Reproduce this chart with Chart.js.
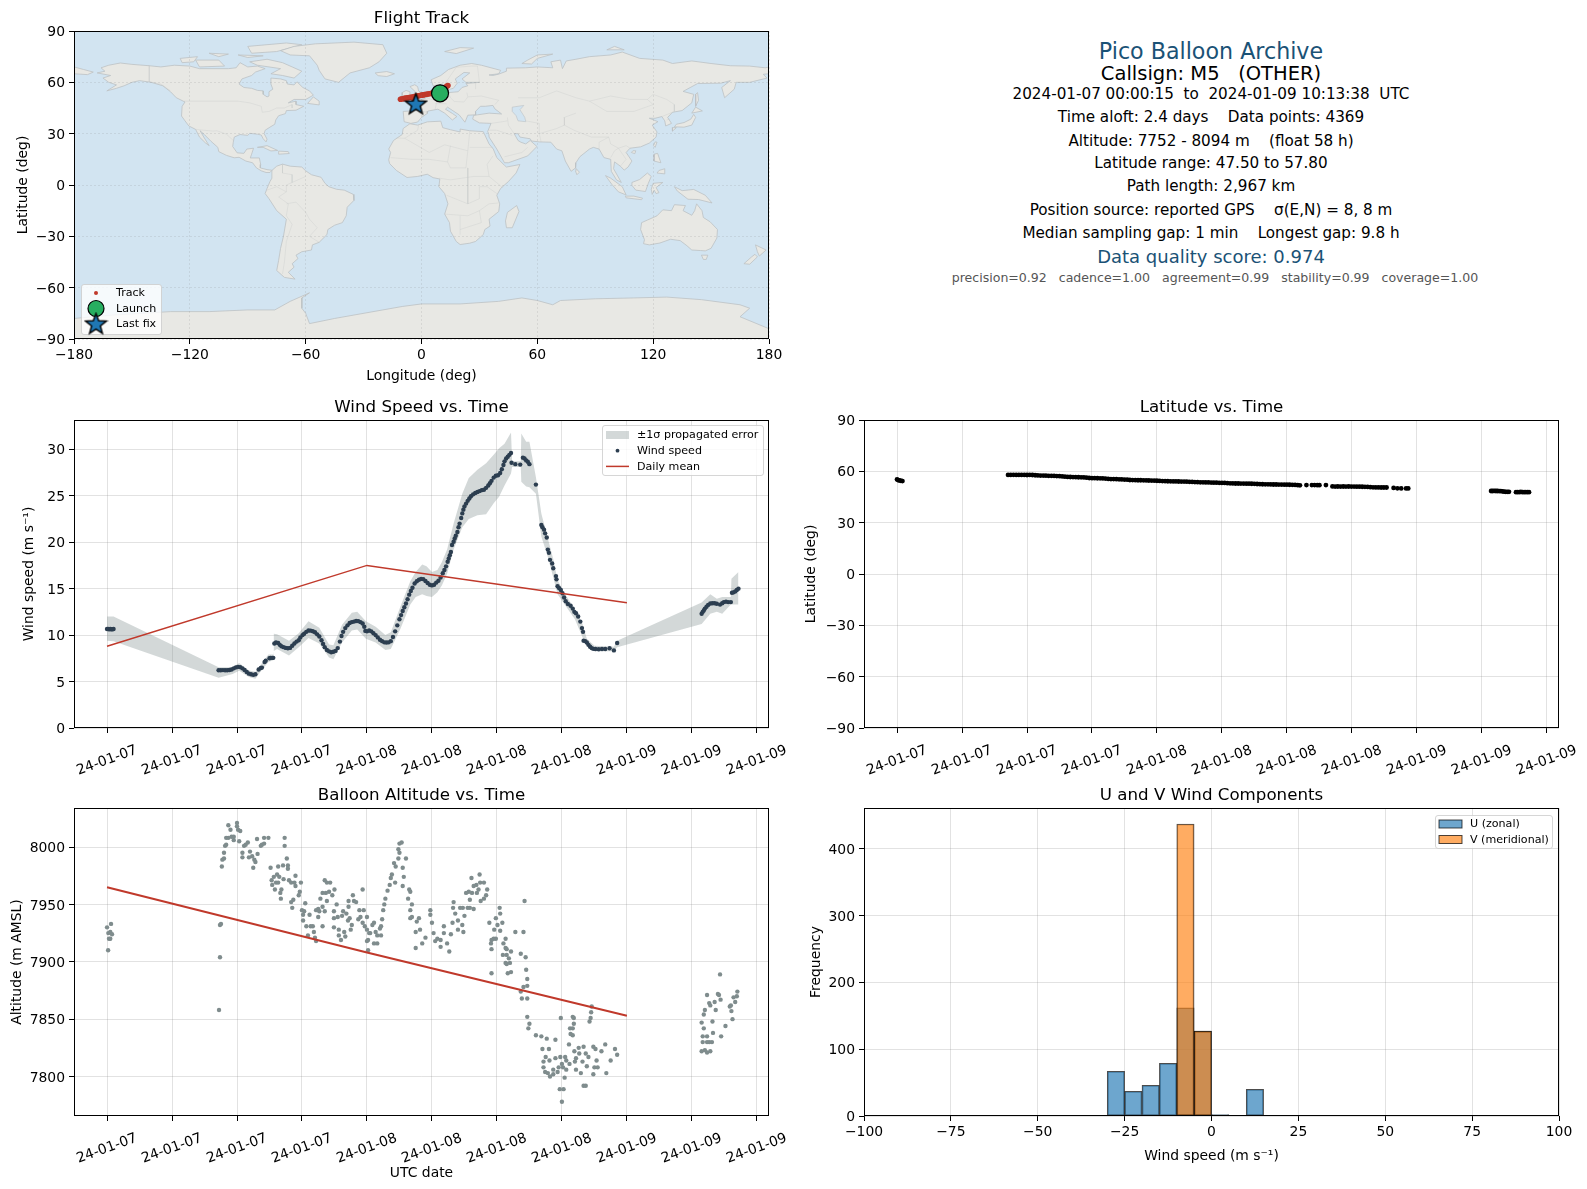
<!DOCTYPE html>
<html>
<head>
<meta charset="utf-8">
<title>Pico Balloon Archive</title>
<script src="https://cdn.jsdelivr.net/npm/chart.js@4"></script>
<style>
html, body { margin: 0; padding: 0; background: #fff; }
body { position: relative; width: 1587px; height: 1189px; overflow: hidden; font-family: "DejaVu Sans", sans-serif; }
canvas { position: absolute; }
.info { position: absolute; left: 811px; width: 800px; text-align: center; white-space: pre; line-height: 1; transform: translateY(-50%); color: #000; font-size: 15.2px; }
.head { color: #1a5276; }
</style>
</head>
<body>
<canvas id="c-map" width="800" height="390" style="left:0;top:0"></canvas>
<canvas id="c-wind" width="800" height="395" style="left:0;top:390px"></canvas>
<canvas id="c-lat" width="787" height="395" style="left:800px;top:390px"></canvas>
<canvas id="c-alt" width="800" height="404" style="left:0;top:785px"></canvas>
<canvas id="c-hist" width="787" height="404" style="left:800px;top:785px"></canvas>

<div class="info head" style="top:50.5px;font-size:22.2px">Pico Balloon Archive</div>
<div class="info" style="top:73.8px;font-size:19.5px">Callsign: M5   (OTHER)</div>
<div class="info" style="top:94.7px">2024-01-07 00:00:15  to  2024-01-09 10:13:38  UTC</div>
<div class="info" style="top:118.2px">Time aloft: 2.4 days    Data points: 4369</div>
<div class="info" style="top:141.5px">Altitude: 7752 - 8094 m    (float 58 h)</div>
<div class="info" style="top:164px">Latitude range: 47.50 to 57.80</div>
<div class="info" style="top:187.3px">Path length: 2,967 km</div>
<div class="info" style="top:210.6px">Position source: reported GPS    σ(E,N) = 8, 8 m</div>
<div class="info" style="top:233.8px">Median sampling gap: 1 min    Longest gap: 9.8 h</div>
<div class="info head" style="top:257.2px;font-size:18px">Data quality score: 0.974</div>
<div class="info" style="top:277.7px;left:815px;font-size:12.55px;color:#555">precision=0.92   cadence=1.00   agreement=0.99   stability=0.99   coverage=1.00</div>

<script>
// time axis (hours since 2024-01-07 00:00)
const timeTicks = [0, 6, 12, 18, 24, 30, 36, 42, 48, 54, 60];
const timeLabels = ['24-01-07', '24-01-07', '24-01-07', '24-01-07', '24-01-08', '24-01-08', '24-01-08', '24-01-08', '24-01-09', '24-01-09', '24-01-09'];

// wind speed vs time [hour, m/s]
const windPoints = [[0,10.65],[.1,10.65],[.2,10.62],[.3,10.65],[.4,10.62],[.5,10.63],[.6,10.66],
[10.3,6.22],[10.5,6.22],[10.7,6.23],[10.9,6.22],[11.1,6.22],[11.3,6.25],[11.5,6.3],[11.7,6.42],[11.9,6.52],[12.1,6.58],[12.3,6.55],[12.5,6.42],[12.7,6.25],[12.9,6.02],[13.1,5.85],[13.3,5.78],[13.5,5.72],[13.7,5.78],
[14,6.3],[14.2,6.45],[14.3,6.5],[14.55,7.1],[14.65,7.25],[15,7.5],[15.1,7.55],[15.25,7.55],[15.35,7.55],
[15.45,9.1],[15.6,9.2],[15.8,9.15],[15.95,8.95],[16.1,8.8],[16.3,8.7],[16.5,8.62],[16.7,8.58],[16.9,8.62],[17.1,8.85],[17.3,9.1],[17.5,9.3],[17.7,9.45],[17.85,9.75],[18.05,10],[18.2,10.15],[18.4,10.35],[18.6,10.5],[18.8,10.48],[19,10.42],[19.2,10.3],[19.4,10.08],[19.6,9.85],[19.8,9.45],[19.95,9.05],[20.1,8.7],[20.3,8.4],[20.5,8.25],[20.7,8.15],[20.9,8.2],[21.1,8.3],[21.3,8.6],[21.5,9.3],[21.65,9.9],[21.8,10.35],[22,10.75],[22.2,11.05],[22.4,11.3],[22.6,11.4],[22.8,11.45],[23,11.52],[23.2,11.5],[23.4,11.4],[23.6,11.25],[23.75,10.9],[23.85,10.45],[24,10.4],[24.2,10.5],[24.4,10.4],[24.6,10.2],[24.8,10],[25,9.75],[25.2,9.5],[25.4,9.35],[25.6,9.22],[25.8,9.2],[26,9.22],[26.2,9.35],[26.4,9.8],[26.6,10.4],[26.8,11.05],[27,11.7],[27.15,12.15],[27.3,12.6],[27.45,13],[27.6,13.4],[27.75,13.85],[27.9,14.35],[28.05,14.75],[28.2,15.1],[28.4,15.55],[28.6,15.8],[28.8,15.95],[29,16.05],[29.2,16.02],[29.4,15.82],[29.6,15.6],[29.8,15.42],[30,15.35],[30.2,15.42],[30.4,15.65],[30.6,15.85],[30.8,16.2],[31,16.65],[31.15,17],[31.3,17.4],[31.45,17.9],[31.55,18.25],[31.65,18.6],[31.75,18.95],[31.85,19.7],[32,20.05],[32.1,20.4],[32.2,20.7],[32.35,21.1],[32.45,21.6],[32.55,22],[32.7,22.6],[32.8,23.1],[32.9,23.5],[33,23.85],[33.15,24.15],[33.3,24.45],[33.45,24.7],[33.6,24.95],[33.8,25.15],[34,25.3],[34.2,25.4],[34.4,25.5],[34.6,25.6],[34.8,25.65],[35,25.85],[35.2,26.1],[35.35,26.35],[35.5,26.6],[35.7,26.95],[35.9,27.15],[36.1,27.2],[36.3,27.45],[36.45,27.85],[36.6,28.3],[36.7,28.7],[36.85,29],[37,29.2],[37.15,29.4],[37.3,29.6],[37.35,28.55],[37.7,28.4],[38.15,28.35],[38.4,29.1],[38.55,29],[38.7,28.8],[38.85,28.65],[39,28.4],[39.6,26.2],[40.1,21.85],[40.2,21.6],[40.35,21.35],[40.45,20.95],[40.6,20.5],[40.7,19.2],[40.8,18.85],[40.9,18.1],[41.1,17.7],[41.2,17.2],[41.45,16.35],[41.5,16],[41.6,15.25],[41.75,15.05],[41.9,14.85],[42.05,14.5],[42.2,14.05],[42.35,13.65],[42.55,13.35],[42.8,13.15],[43,12.85],[43.15,12.5],[43.3,12.35],[43.5,12],[43.7,11.45],[43.85,10.75],[43.95,10.35],[44,9.4],[44.15,9.35],[44.3,9.2],[44.45,8.95],[44.6,8.75],[44.75,8.6],[44.9,8.52],[45.1,8.5],[45.4,8.48],[45.7,8.5],[46,8.5],[46.4,8.58],[46.8,8.35],[47.1,9.15],
[54.9,12.3],[55,12.5],[55.1,12.65],[55.2,12.85],[55.35,13.05],[55.5,13.25],[55.7,13.4],[55.9,13.42],[56.1,13.42],[56.3,13.38],[56.6,13.28],[56.8,13.42],[56.95,13.55],[57.15,13.6],[57.35,13.55],[57.6,13.55],[57.7,14.55],[57.85,14.6],[58,14.7],[58.15,14.85],[58.3,15]];

// propagated error band
const bandHours = [0,.6,10.3,11.6,12.2,13.1,13.7,14.2,14.9,15.35,15.4,15.7,16.8,17.7,18.6,19.6,20.5,20.9,21.7,22.6,23.1,23.9,24.8,25.7,26.2,27.1,28,28.5,29.1,29.5,30,30.5,30.9,31.4,32,32.8,33.4,34.2,35,35.7,36.2,36.7,37.3,37.4,38.2,38.25,38.7,39,39.6,40.1,40.7,41.2,41.6,42.3,43.2,43.9,44.3,45,46.8,47.1,54.9,55.7,56.3,56.8,57.6,57.65,58.3];
const bandLower = [9.4,9.35,5.4,5.8,6.15,5.5,5.3,6.1,7.1,7.3,8.3,8.5,7.8,8.7,9.7,9.1,7.6,7.4,9.2,10.5,10.6,9.6,9.2,8.4,8.5,10.7,13.3,14.1,14.4,14.2,14.1,14.6,15.3,16.6,19.2,21.6,22.5,22.9,23,24.2,24.9,26.1,27.4,28.1,28.1,26.5,26,25.9,25.2,20.6,18.4,16.2,14.4,13.2,11.7,9.76,8.86,8.25,8.25,8.7,11.2,12.3,12.5,12.3,13.3,13.3,13.3];
const bandUpper = [12,12,6.55,6.55,7,6.2,6.05,6.8,7.9,7.9,10.15,10.1,9.4,10.2,11.5,10.8,9,8.9,11.1,12.4,12.5,11.5,10.9,10,10.3,13.1,15.8,16.8,17.6,17.4,16.8,17,17.8,19.2,22,25.2,26.9,27.8,28.5,29.4,30.1,30.6,31.8,28.7,28.7,31.7,30.8,30.8,27,23.1,20.4,18.2,15.9,14.4,12.8,11.2,9.6,8.86,8.75,9.4,13.5,14.4,13.9,14.1,14.1,16.06,16.8];

const windMeanHours = [0, 24, 48];
const windMean = [8.79, 17.5, 13.47];
const windTicks = [0, 5, 10, 15, 20, 25, 30];

// latitude vs time [hour, deg]
const latPoints = [[0,55.3],[.1,54.9],[.2,54.7],[.35,54.5],[.5,54.3],
[10.25,57.9],[10.5,57.9],[10.75,57.95],[11,57.9],[11.25,57.9],[11.5,57.9],[11.75,57.9],[12,57.85],[12.25,57.9],[12.5,57.85],[12.75,57.7],[13,57.6],[13.25,57.55],[13.5,57.5],[13.75,57.45],[14,57.4],[14.25,57.4],[14.5,57.3],[14.75,57.25],[15,57.2],[15.25,57],[15.5,56.9],[15.75,56.75],[16,56.7],[16.25,56.65],[16.5,56.6],[16.75,56.55],[17,56.5],[17.25,56.45],[17.5,56.3],[17.75,56.1],[18,56],[18.25,56],[18.5,55.95],[18.75,55.9],[19,55.85],[19.25,55.75],[19.5,55.55],[19.75,55.5],[20,55.45],[20.25,55.4],[20.5,55.35],[20.75,55.3],[21,55.2],[21.25,55.1],[21.5,54.95],[21.75,54.9],[22,54.85],[22.25,54.8],[22.5,54.8],[22.75,54.75],[23,54.7],[23.25,54.65],[23.5,54.6],[23.75,54.55],[24,54.5],[24.25,54.4],[24.5,54.3],[24.75,54.25],[25,54.2],[25.25,54.15],[25.5,54.1],[25.75,54.1],[26,54.05],[26.25,54],[26.5,54],[26.75,53.95],[27,53.85],[27.25,53.8],[27.5,53.7],[27.75,53.65],[28,53.6],[28.25,53.55],[28.5,53.5],[28.75,53.5],[29,53.45],[29.25,53.4],[29.5,53.35],[29.75,53.3],[30,53.25],[30.25,53.2],[30.5,53.1],[30.75,53],[31,52.95],[31.25,52.9],[31.5,52.9],[31.75,52.85],[32,52.85],[32.25,52.8],[32.5,52.8],[32.75,52.75],[33,52.7],[33.25,52.6],[33.5,52.5],[33.75,52.45],[34,52.4],[34.25,52.4],[34.5,52.35],[34.75,52.3],[35,52.3],[35.25,52.25],[35.5,52.25],[35.75,52.2],[36,52.2],[36.25,52.15],[36.5,52.1],[36.75,52.05],[37,51.9],[37.2,51.8],[37.8,51.95],[38.3,51.95],[38.55,51.95],[38.8,51.9],[39,51.9],[39.6,52],
[40.2,51.2],[40.45,51.1],[40.7,51.15],[40.95,51.1],[41.2,51.15],[41.45,51.1],[41.7,51.15],[41.95,51.1],[42.2,51.1],[42.45,51.05],[42.7,51.05],[42.95,51],[43.2,50.95],[43.45,50.9],[43.7,50.75],[43.95,50.65],[44.2,50.6],[44.45,50.6],[44.7,50.55],[44.95,50.55],[45.2,50.55],[45.85,50.3],[46.2,50.1],[46.55,50],[47,50],[47.2,50],
[54.85,48.5],[55,48.5],[55.15,48.55],[55.3,48.5],[55.45,48.5],[55.6,48.45],[55.75,48.4],[55.9,48.3],[56.05,48.1],[56.2,48],[56.35,48],[56.5,48.05],[57.15,47.85],[57.3,47.9],[57.45,47.85],[57.6,47.95],[57.75,47.85],[57.9,47.9],[58.05,47.85],[58.2,47.9],[58.35,47.85]];
const latTicks = [-90, -60, -30, 0, 30, 60, 90];

// balloon altitude vs time [hour, m]
const altPoints = [[0,7930],[.37,7933],[.12,7925],[.3,7926],[.46,7924],[.18,7920],[.3,7920],[.1,7910],
[10.34,7858],[10.43,7904],[10.43,7932],[10.52,7933],[10.6,7983],[10.65,7989],[10.8,7990],[10.8,7995],[10.9,8001],[11,8002],[11,8008],[11.2,8008],[11.2,8019],[11.4,8015],[11.5,8009],[11.7,8009],[11.7,8006],[12,8021],[12,8018],[12.1,8015],[12.3,8014],[12.2,8005],[12.5,7995],[12.5,7991],[12.65,8001],[12.8,8002],[13,8004],[13.2,7996],[13.1,7991],[13.4,7992],[13.6,7989],[13.5,7982],[13.7,7987],[13.9,7994],[13.85,8007],[14.2,8001],[14.3,8002],[14.5,8003],[14.5,8008],[14.9,8008],
[15.1,7982],[15.8,7983],[16.25,7984],[16.4,8008],[16.4,8001],[16.6,7990],[16.7,7984],[16.7,7981],[15.2,7971],[15.25,7967],[15.4,7974],[15.5,7963],[15.6,7969],[15.7,7976],[15.9,7974],[15.8,7969],[16.1,7963],[16,7960],[16.05,7955],[16.3,7972],[16.8,7971],[17,7969],[17.4,7975],[17.3,7969],[17.4,7966],[17.9,7969],[17.8,7961],[17.7,7958],[17.2,7954],[17,7952],[17.1,7947],
[18.3,7951],[18,7945],[18.2,7944],[18.1,7941],[18.7,7941],[18.1,7936],[18.4,7931],[18.8,7931],[18.55,7923],[19.1,7926],[19.2,7921],[19,7931],[19.3,7918],[19.3,7945],[19.5,7946],[19.6,7944],[19.5,7939],[19.9,7931],[19.7,7955],[19.9,7948],[20.1,7944],[19.9,7960],[20.2,7960],[20.3,7953],[20.5,7961],[20.1,7971],[20.3,7969],[20.6,7969],[20.8,7958],[21,7963],[21.2,7950],[20.95,7944],[20.95,7938],[21.3,7939],[20.95,7930],[21.4,7928],[21.4,7923],[21.6,7919],[21.9,7926],[22,7922],[21.8,7944],[21.7,7940],[22.1,7942],[22.25,7936],[22.4,7938],[22.6,7932],[22.5,7928],[22.3,7953],[22.3,7948],[22.7,7958],[22.8,7953],[23,7952],[23.3,7945],[23.6,7963],[23.2,7937],[23.4,7939],[23.7,7945],[23.6,7934],[24,7939],[23.8,7931],[24,7928],[24.2,7925],[24.5,7932],[24.3,7925],[24.1,7919],[24,7918],[24.1,7910],[24.65,7934],[24.8,7926],[24.95,7923],[24.65,7916],[24.95,7916],[25.2,7929],[25.3,7931],[25.3,7923],[25.4,7937],[25.5,7945],[25.6,7950],[25.7,7955],[25.9,7962],[26.1,7967],[26.2,7973],[26.3,7976],[26.5,7986],[26.6,7969],[26.65,7983],[26.9,7990],[27,7995],[26.9,7998],[27,8003],[27.2,8004],[27.3,7982],[27.6,7990],[27.4,7974],[27.3,7966],[27.9,7963],[27.8,7955],[28,7945],[28,7938],
[28,7961],[28.15,7950],[28.15,7939],[28.6,7935],[28.8,7938],[28.5,7926],[28.9,7928],[28.5,7912],[29.1,7916],[29.4,7921],[29.85,7945],[29.85,7941],[30,7934],[30.15,7925],[30.5,7920],[30.3,7918],[30.8,7919],[31.1,7931],[31.1,7925],[30.8,7913],[31.4,7916],[31.6,7909],[31.75,7924],[31.9,7934],[31.95,7947],[32,7952],[32.15,7942],[32.4,7936],[32.4,7928],[32.6,7947],[32.8,7932],[32.9,7926],[32.85,7947],[33,7940],[33.3,7947],[33.5,7947],[33.85,7946],[33.15,7960],[33.4,7961],[33.5,7954],[33.7,7960],[33.65,7973],[33.85,7966],[34.1,7967],[34.15,7960],[34.3,7963],[34.4,7976],[34.45,7969],[34.8,7969],[35.1,7963],[35,7958],[34.8,7955],[34.5,7953],
[35.3,7934],[35.9,7938],[36.25,7947],[36.3,7942],[36.5,7934],[36.05,7932],[35.75,7928],[36.3,7927],[35.5,7919],[35.7,7920],[35.9,7920],[35.45,7916],[35.5,7911],[35.5,7890],[36.8,7920],[36.6,7916],[36.8,7912],[36.9,7911],[37.3,7909],[36.55,7906],[36.9,7906],[37.1,7903],[36.8,7899],[37.2,7899],[36.9,7898],[37.3,7891],[37,7890],
[37.7,7926],[38.45,7926],[38.55,7953],[38.2,7907],[38.65,7904],[38.7,7893],[38.8,7885],[38.8,7879],[38.45,7878],[38.2,7874],[38.3,7868],[38.8,7868],[38.8,7852],[39,7846],[38.9,7842],[39.6,7836],[40.1,7835],[40.6,7833],[41.4,7832],
[40.2,7824],[40.8,7824],[40.5,7817],[40.85,7814],[40.3,7813],[40.3,7808],[40.45,7804],[40.7,7803],[41.2,7806],[40.9,7800],[41.2,7802],[41.4,7816],[41.85,7817],[42.3,7817],[41.7,7808],[41.6,7804],[42,7811],[42.1,7808],[42.4,7814],[42.4,7806],[42.25,7799],[41.8,7789],[42.15,7789],[42,7778],[41.9,7851],[42.65,7828],[42.75,7842],[43,7852],[43.1,7851],[43.1,7846],[43,7842],[42.8,7837],[43,7836],[42.7,7811],
[43.15,7822],[43.55,7825],[44,7826],[43.6,7820],[43.3,7816],[43.2,7813],[43.3,7806],[43.75,7803],[43.9,7813],[44.2,7820],[44.45,7817],[44.3,7809],[44,7792],[44.2,7792],[44.9,7826],[45.1,7824],[45.65,7822],[46,7828],[45.2,7814],[45,7808],[45.3,7808],[44.9,7802],[46.1,7803],[46.5,7814],[46.9,7824],[47.1,7819],[44.75,7861],[44.7,7856],[44.65,7851],[44.55,7848],
[54.9,7847],[55.1,7854],[55.2,7858],[55.4,7871],[55.6,7864],[55.7,7862],[55.9,7848],[56.1,7865],[56.2,7858],[56.4,7872],[56.5,7871],[56.65,7867],[56.6,7889],[57.1,7844],[56.7,7835],[57.5,7861],[57.6,7862],[57.65,7857],[57.75,7850],[57.85,7869],[58,7865],[58.15,7870],[58.2,7874],[55.1,7842],[55,7835],[55.4,7835],[55,7830],[55.4,7830],[55.6,7830],[55.85,7830],[55.95,7838],[54.9,7822],[55.2,7823],[55.4,7821],[55.7,7822]];
const altMeanHours = [0, 24, 48];
const altMean = [7965, 7908, 7853];
const altTicks = [7800, 7850, 7900, 7950, 8000];

// U / V histogram
const binCenters = [-97.5,-92.5,-87.5,-82.5,-77.5,-72.5,-67.5,-62.5,-57.5,-52.5,-47.5,-42.5,-37.5,-32.5,-27.5,-22.5,-17.5,-12.5,-7.5,-2.5,2.5,7.5,12.5,17.5,22.5,27.5,32.5,37.5,42.5,47.5,52.5,57.5,62.5,67.5,72.5,77.5,82.5,87.5,92.5,97.5];
const countsU = [0,0,0,0,0,0,0,0,0,0,0,0,0,0,67,37,46,79,162,127,2,0,40,0,0,0,0,0,0,0,0,0,0,0,0,0,0,0,0,0];
const countsV = [0,0,0,0,0,0,0,0,0,0,0,0,0,0,0,0,0,0,437,127,0,0,0,0,0,0,0,0,0,0,0,0,0,0,0,0,0,0,0,0];
const histXTicks = [-100, -75, -50, -25, 0, 25, 50, 75, 100];
const histYTicks = [0, 100, 200, 300, 400];

// flight track [lon, lat]
const trackPoints = [[13.7,58.1],[13.2,57.8],[12.6,57.3],[12,56.8],[11.3,56.2],[10.5,55.5],[9.6,54.8],[8.6,54.5],[7.6,54.2],[6.6,53.9],[5.6,53.7],[4.8,53.5],[4,53.3],[3.2,53.15],[2.4,53],[1.6,52.8],[.8,52.65],[0,52.5],[-.8,52.3],[-1.6,52.15],[-2.4,51.95],[-3.2,51.8],[-4,51.6],[-4.8,51.45],[-5.6,51.25],[-6.4,51.1],[-7.2,50.95],[-8,50.75],[-8.8,50.6],[-9.6,50.45],[-10.4,50.3],[-10.9,50.15],[-4,48.5],[-3.5,48],[-3,47.6]];
const launchPoint = [9.6, 53.6];
const lastFixPoint = [-2.9, 47.3];
const lonTicks = [-180, -120, -60, 0, 60, 120, 180];
const mapLatTicks = [-90, -60, -30, 0, 30, 60, 90];

// coarse land outlines [lon, lat]
const landPolygons = [
 [[-168,65.5],[-164,66.5],[-166,68.5],[-162,70],[-156,71.3],[-150,70.5],[-141,69.7],[-135,69],[-128,70],[-120,69.5],[-115,68],[-108,68],[-100,68],[-96,68.5],[-94,71.5],[-90,69],[-85,69.5],[-81,68],[-86,66],[-88,64],[-93,62],[-94.5,59],[-92,57],[-88,56.5],[-85,55.3],[-82,55],[-82,53],[-80,51.5],[-79,52],[-79,54.5],[-77,56],[-78,59],[-78,62.5],[-73,62],[-70,61],[-69.5,59],[-66,58.5],[-64.5,60.3],[-61.5,57],[-58,55],[-56,52.5],[-60,50],[-66,50],[-69,48],[-65,49],[-65,47],[-61,46],[-65,43.7],[-70,43.5],[-70.5,41.7],[-74,40.5],[-75.5,38],[-76,35.5],[-78.5,33.8],[-81,32],[-81.5,30],[-80,26.8],[-80.5,25.2],[-82,27],[-83,29.2],[-85,29.7],[-89,30.2],[-90,29],[-94,29.5],[-97,28],[-97.5,25],[-97.8,22.5],[-95.5,18.8],[-92,18.5],[-90.5,21],[-87,21.5],[-88,18],[-88.7,15.8],[-84,15.8],[-83.3,12],[-83.5,10],[-80,9],[-77.5,8.6],[-78.5,7.3],[-80.5,7.3],[-83,8.3],[-85.5,10],[-87.5,13],[-91,14],[-94.5,16.2],[-97,15.9],[-101,17.3],[-105,19.5],[-105.5,22],[-109,25.5],[-112.5,29.5],[-114.7,31.7],[-112.5,27.5],[-110,23],[-112,24.7],[-115,28],[-117,32.5],[-120.5,34.5],[-122.5,37.5],[-124.3,40.3],[-124,46],[-122.5,48.5],[-127,51],[-130,54.5],[-134,58],[-140,60],[-146,61],[-150,60],[-154,58],[-158,56.5],[-163,55],[-158,58.5],[-162,60],[-165,62.5],[-161,64]],
 [[-73,78.5],[-66,81],[-55,82.5],[-35,83.5],[-20,82],[-18,77],[-22,72],[-27,68.5],[-37,65.5],[-43,60],[-50,62],[-53,67],[-54,70],[-58,75.5],[-68,76]],
 [[-80,73.5],[-72,71.5],[-67,69],[-62,66.5],[-66,62.5],[-72,64],[-78,65],[-73,68],[-85,70],[-89,72]],
 [[-117,73],[-105,73],[-102,69.5],[-115,69]],
 [[-90,81],[-70,83],[-62,82],[-75,78],[-88,77]],
 [[-125,74],[-116,75],[-118,72],[-124,71.5]],
 [[-95,76],[-82,75.5],[-90,74.5]],
 [[-110,77],[-100,76.5],[-105,75]],
 [[-59,47.7],[-53,46.8],[-53,49],[-56,51.5]],
 [[-85,22],[-80,23],[-74.5,20.2],[-78,19.9],[-82,22]],
 [[-74,19.8],[-69,19.5],[-68.5,18.4],[-74,18]],
 [[-77.5,8.5],[-75,11],[-72,12.2],[-68,11],[-62,10.5],[-60,8.3],[-57,6],[-52,4.5],[-50,1],[-48,-1],[-44,-2.5],[-40,-3],[-35.3,-5.5],[-35,-9],[-38.5,-13],[-39,-18],[-41,-22],[-45,-23.5],[-48.5,-26],[-49,-29],[-53,-33.5],[-56.5,-35],[-57,-38],[-62,-39],[-65,-41],[-64,-43],[-67,-46],[-66,-48],[-69,-51],[-65.5,-55],[-71,-54],[-75,-50],[-74,-44],[-73,-37],[-71.5,-30],[-70,-20],[-75,-15],[-79,-8],[-81,-5],[-80,-2],[-78.5,2],[-77.5,4]],
 [[-6,35.8],[-2,35],[3,36.9],[10,37.3],[11,33.5],[15,32.3],[20,31],[20,32.7],[25,31.7],[32,31.2],[32.5,30],[35,24],[37.2,21],[39,16],[43,11.5],[44,10.5],[51,12],[49,7],[45,2],[41,-2],[39,-6],[40.5,-11],[40,-15.5],[35,-20],[35.5,-24],[32.8,-26],[32,-29],[28,-33],[25,-34],[20,-34.8],[18,-33],[15,-27],[14.5,-22],[12,-17],[13.7,-11],[12,-5],[9,-1],[9.5,3.5],[6,4.3],[3,6.3],[-2,5],[-7.5,4.4],[-13,8.5],[-16.5,12.5],[-17,14.7],[-16,19],[-17,21],[-14.5,26],[-10,29.5],[-9.5,33]],
 [[-9,37],[-9.5,43],[-2,43.5],[-1,46],[-4.5,48.5],[1.5,50.5],[4,52],[8,53.8],[8.5,57],[10.5,57.5],[10,54.5],[14,54],[19,54.5],[21,57],[24,58],[23,59.3],[30,60],[23,60],[21,62],[25,65.5],[22,65.8],[17.5,62],[18.5,59.5],[16.5,56.5],[13,55.5],[11,59],[6,58],[5,61.5],[10,64],[14,67.5],[20,70],[26,71],[31,70],[41,67],[40,65],[35,64.3],[37,64],[40,64.8],[44,66.5],[44,68.3],[54,68.5],[60,69],[68,68.5],[67,72],[72,73],[73,68],[75,72.5],[80,73.5],[87,75],[98,76],[104,77.7],[113,74],[125,73],[130,71],[140,72.5],[150,71],[160,69.7],[170,69.5],[178,68.5],[180,68.9],[180,65],[177,64.7],[179,62.5],[170,60],[163,60],[162,56],[157,51],[155.5,57],[160,61],[155,59.5],[143,59.3],[135.5,54.7],[141,53],[140,48],[135,43.5],[130,42.5],[127.5,39.5],[129.5,36],[126.5,34.5],[126,37.5],[124.5,40],[121,39],[118,39],[122.5,37],[119.5,35],[122,31],[121.5,28],[118,24.5],[113.5,22.3],[108,21.5],[106,19],[109,14],[107,10.5],[105,8.7],[103,11],[100,13.5],[99.5,9.5],[103.5,1.5],[101,3],[98.3,8],[98,15],[94.5,16],[92,21],[89,22],[87,21],[82,16.5],[80,13],[79.8,10],[77.5,8],[74.5,14],[72.7,20],[70,21],[67,25],[61,25.2],[57,25.7],[56.3,27],[51,28],[50,30],[48,30],[50,26],[51.5,25],[54,24],[56.3,26],[59.8,22.5],[55,17],[45,13],[43,13],[39,21],[35,28],[34.9,29.5],[34.3,31.3],[36,36],[30,36.3],[26.5,38.5],[27,40.7],[29,41],[35,42],[41.5,41.5],[38,44.5],[37,46.5],[33,46],[30.5,46],[28,43],[28,41],[24,40.8],[23,38],[22.5,36.7],[19.5,41],[13.5,45.5],[12.4,44.3],[16,41.8],[18.3,40],[16,38],[12,42],[8.5,44.3],[3.3,43.2],[3,41.8],[0,39.5],[-2,36.8],[-5.5,36]],
 [[-180,69],[-175,67.5],[-170,66],[-173,64.5],[-180,65]],
 [[-5.5,50],[1.3,51.2],[1.5,52.8],[-1.5,55],[-2,57.5],[-3.5,58.6],[-6,57.5],[-3.2,54.5],[-4.5,52.5]],
 [[-10,52],[-6.2,52.3],[-6,54.5],[-8,55.3],[-10,54]],
 [[-24,65.5],[-18,66.3],[-14,65],[-18,63.4],[-22.5,63.9]],
 [[12,78],[20,80.3],[27,80],[18,76.8]],
 [[52,71],[57,70.7],[60,74],[68,76.5],[60,76],[55,73]],
 [[96,79],[105,79],[100,81]],
 [[142,46],[143.5,49.5],[143,54],[142,53]],
 [[131,34],[136,33.8],[140,35],[142,39.5],[141,41.3],[139.5,38.5],[136,36.5],[132,35.5]],
 [[140,42],[145.5,43.3],[142,45.5]],
 [[130,31.5],[132,33.5],[130,33.5]],
 [[120.2,23],[121,22],[122,25],[121,25.2]],
 [[108.7,19],[110.5,18.3],[111,20],[109.5,20]],
 [[120.5,14],[124,13],[122.3,18.5],[120.5,18]],
 [[122,7],[126,6.5],[126,9.5],[123,8.5]],
 [[95.3,5.5],[98,4],[104,-1],[106,-5.8],[102,-4],[98.5,.5]],
 [[105.5,-6.5],[110,-6.5],[114.5,-7.7],[114,-8.6],[106,-7.5]],
 [[109,1.5],[113,3.2],[117,7],[119,5],[117.5,1],[116,-3.8],[111,-3],[109,-.2]],
 [[119.5,-5.5],[120.5,-3],[121.5,-5],[123,-4.5],[121.5,-1.5],[125,1.5],[120,1],[119,-2.5]],
 [[131,-1],[135,-3.3],[141,-2.6],[147,-6],[150.5,-10.5],[143.5,-8.5],[138,-8.3],[132.5,-3.5]],
 [[114,-22],[113.5,-26],[115.5,-32],[115,-34.3],[118,-35],[123.5,-33.9],[129,-31.7],[134,-32.5],[137.5,-35.5],[140,-38],[144.5,-38.3],[147,-38.5],[150,-37],[153,-31],[153.3,-26],[149.5,-21.5],[146,-19],[145.3,-15],[142.5,-11],[141.5,-15],[140,-17.7],[135.5,-15],[136.7,-12],[131,-11.5],[129.5,-15],[125,-14.5],[122,-18],[117,-20.5]],
 [[145,-41],[148.3,-41],[147.5,-43.5],[146,-43.5]],
 [[173,-35],[178.5,-38],[175,-41.5],[174,-39]],
 [[172.7,-40.5],[174,-42],[170,-46.3],[167,-46],[171,-42]],
 [[49.3,-12],[50.5,-15.5],[47,-25],[44,-25],[43.5,-21],[44.5,-16]],
 [[80,9.7],[81.8,7.5],[80.5,6],[79.8,8]],
 [[-180,-90],[-180,-78],[-160,-76],[-130,-74],[-110,-74],[-90,-73],[-76,-73],[-68,-68],[-58,-63],[-62,-66],[-62,-72],[-60,-75],[-58,-81],[-45,-78],[-35,-76],[-20,-73],[-10,-71],[0,-69.5],[20,-69.5],[40,-68],[52,-66],[60,-67.5],[68,-70],[72,-67.5],[90,-66.5],[110,-66],[127,-65.5],[145,-67],[165,-70],[170,-72],[165,-77],[180,-84],[180,-90]]
];
const waterPolygons = [
 [[47,45.5],[53,46.5],[51,44],[53.5,39.5],[54,37],[50,37.5],[49,40.5],[47,43]]
];
const borderLines = [
 [[-141,69.7],[-141,60.3],[-135,59],[-130,55]],
 [[-123,49],[-95,49],[-89,48],[-83,46],[-82.5,42.5],[-79,43],[-75,45],[-71,45],[-67,47],[-67,45]],
 [[-117,32.5],[-108,31.5],[-106,31.7],[-101,29.7],[-97.5,26]],
 [[-70,-18],[-69,-11],[-74,-7],[-70,-4],[-70,0],[-67,1.5],[-60,5]],
 [[-53,-33.5],[-58,-30],[-54,-25],[-58,-20],[-60,-16],[-65,-10],[-70,-11]],
 [[-70,-18],[-67,-23],[-70,-33],[-71,-45],[-72,-52]],
 [[-80,-3],[-75,-1],[-70,-4]],
 [[-72,12],[-72,7],[-67,6],[-67,1.5]],
 [[-13,27.5],[-8.7,27.3],[-2,32],[-1.5,35]],
 [[-8.7,27.3],[4,19],[12,23.5],[24,20],[25,31.5]],
 [[25,22],[37,22]],
 [[-16,16],[-5,15],[4,15],[13.5,13.5],[15,23]],
 [[24,20],[23,10],[15,10],[13.5,13.5]],
 [[9,4],[15,3],[27,5],[35,5],[42,-1.5]],
 [[35,5],[34,12],[37,17]],
 [[24,10],[24,-11],[13,-6]],
 [[12,-17],[24,-18],[30,-15],[35,-11],[40,-10.5]],
 [[20,-29],[20,-18]],
 [[30,-15],[31,-22],[20,-26]],
 [[34,-1],[39,-5]],
 [[24,-11],[30,-8],[30,-1],[34,-1]],
 [[-1.8,43.4],[3,42.5]],
 [[2.5,51],[8,49],[7,44]],
 [[7,54],[7,50]],
 [[14,54],[15,51],[17,48.8],[22,48.5],[24,51.5],[23.5,54]],
 [[13,47.5],[7,47.5]],
 [[24,51.5],[31,52],[40,49.5],[38,47]],
 [[28,56],[28,60]],
 [[30,60],[29,69.5]],
 [[12,59],[18,68.8],[26,69.5],[29,69.5]],
 [[50,51],[61,51],[70,55],[80,51],[87,49],[98,52],[108,50],[117,50],[120,53],[127,50],[131,47],[131,43]],
 [[87,49],[96,43],[110,43],[120,47],[117,50]],
 [[80,42],[74,39.5],[74,35],[79,32],[88,28],[97,28],[98,24],[102,21.5],[106,23],[108,21.5]],
 [[74,35],[70,33],[61,30],[62,25]],
 [[61,30],[61,36],[54,37.5]],
 [[48,30],[45,35],[44.5,39.5]],
 [[36,36],[42,37],[44.5,37.5]],
 [[35,32],[39,32],[47,29]],
 [[43,16.5],[52,19],[55,22]],
 [[92,21],[92,25],[97,28]],
 [[98,16],[100,20],[102,21.5],[106,15],[103,11]],
 [[124.5,40],[130,42.5]],
 [[127,38],[128.5,38.5]]
];

const RED = '#c0392b';
const NAVY = '#2c3e50';
const GREY = '#7f8c8d';
const GREEN = '#27ae60';
const BLUE = '#1f77b4';
const GRID = 'rgba(128,128,128,0.23)';
const FONT = '"DejaVu Sans", sans-serif';

Chart.defaults.font.family = FONT;
Chart.defaults.color = '#000';
Chart.defaults.animation = false;

const xy = p => ({ x: p[0], y: p[1] });
const minus = v => String(v).replace('-', '\u2212');

// filled star marker for the last fix
function makeStar(size) {
    const c = document.createElement('canvas');
    c.width = c.height = size;
    const g = c.getContext('2d');
    const m = size / 2, R = size / 2 - 1.5, r = R * 0.42;
    g.beginPath();
    for (let i = 0; i < 10; i++) {
        const a = -Math.PI / 2 + i * Math.PI / 5;
        const d = i % 2 ? r : R;
        g.lineTo(m + Math.cos(a) * d, m + 0.5 + Math.sin(a) * d);
    }
    g.closePath();
    g.fillStyle = BLUE;
    g.fill();
    g.strokeStyle = '#000';
    g.lineWidth = 1.4;
    g.stroke();
    return c;
}
const starMarker = makeStar(25);

// plot background and black frame
const framePlugin = {
    id: 'frame',
    beforeDraw(chart, args, opts) {
        if (!opts.bg) return;
        const a = chart.chartArea;
        chart.ctx.fillStyle = opts.bg;
        chart.ctx.fillRect(a.left, a.top, a.right - a.left, a.bottom - a.top);
    },
    afterDraw(chart) {
        const a = chart.chartArea, ctx = chart.ctx;
        ctx.save();
        ctx.strokeStyle = '#000';
        ctx.lineWidth = 1;
        ctx.strokeRect(Math.round(a.left) + .5, Math.round(a.top) + .5, Math.round(a.right - a.left) - 1, Math.round(a.bottom - a.top) - 1);
        ctx.restore();
    }
};

// matplotlib style legend box inside the axes
const boxLegendPlugin = {
    id: 'boxLegend',
    afterDraw(chart, args, opts) {
        if (!opts.items) return;
        const ctx = chart.ctx;
        ctx.save();
        ctx.beginPath();
        ctx.roundRect(opts.x + .5, opts.y + .5, opts.w, opts.h, 2.5);
        ctx.fillStyle = 'rgba(255,255,255,0.8)';
        ctx.fill();
        ctx.strokeStyle = 'rgba(204,204,204,0.8)';
        ctx.lineWidth = 1;
        ctx.stroke();
        ctx.font = '11.1px ' + FONT;
        ctx.textBaseline = 'middle';
        opts.items.forEach((it, i) => {
            const cy = opts.y + opts.first + i * opts.step;
            const sx = opts.x + opts.swatch;
            ctx.fillStyle = it.color;
            ctx.strokeStyle = '#000';
            if (it.kind === 'dot') {
                ctx.beginPath(); ctx.arc(sx, cy, it.r, 0, Math.PI * 2); ctx.fill();
            } else if (it.kind === 'circle') {
                ctx.beginPath(); ctx.arc(sx, cy, it.r, 0, Math.PI * 2); ctx.fill();
                ctx.lineWidth = 1.2; ctx.stroke();
            } else if (it.kind === 'star') {
                ctx.drawImage(starMarker, sx - 12.5, cy - 12.5);
            } else if (it.kind === 'patch') {
                ctx.fillRect(sx - 11.5, cy - 4, 23, 8);
                if (it.edge) { ctx.strokeStyle = it.edge; ctx.lineWidth = 1; ctx.strokeRect(sx - 11.5, cy - 4, 23, 8); }
            } else if (it.kind === 'line') {
                ctx.strokeStyle = it.color; ctx.lineWidth = 1.5;
                ctx.beginPath(); ctx.moveTo(sx - 11.5, cy); ctx.lineTo(sx + 11.5, cy); ctx.stroke();
            }
            ctx.fillStyle = '#000';
            ctx.fillText(it.label, opts.x + opts.text, cy + .5);
        });
        ctx.restore();
    }
};

// builds the options so every axes box lands on the same pixels as the reference
function axesOptions(box, plot, o) {
    const rotated = !!o.xLabels;
    return {
        responsive: false,
        devicePixelRatio: 1,
        animation: false,
        events: [],
        layout: { autoPadding: false, padding: { left: 0, top: 0, right: box.x + box.w - plot.r, bottom: 0 } },
        plugins: {
            legend: { display: false },
            tooltip: { enabled: false },
            title: {
                display: true, fullSize: false, text: o.title, color: '#000',
                font: { size: 16.67, weight: 'normal', lineHeight: 1.2 },
                padding: { top: plot.t - box.y - 22, bottom: 2 }
            },
            frame: { bg: o.bg },
            boxLegend: o.legend || {}
        },
        scales: {
            x: {
                type: 'linear', min: o.xMin, max: o.xMax, offset: false,
                afterBuildTicks(axis) { axis.ticks = o.xTicks.map(v => ({ value: v })); },
                afterFit(axis) {
                    axis.height = box.y + box.h - plot.b;
                    axis.paddingLeft = axis.paddingRight = axis.paddingTop = axis.paddingBottom = 0;
                },
                grid: { color: o.gridColor || GRID, lineWidth: o.gridWidth || 1, tickColor: '#000', tickWidth: 1, tickLength: 5, offset: false, z: o.gridZ || 0 },
                border: { display: false, dash: o.gridDash },
                ticks: {
                    autoSkip: false, font: { size: 13.9 }, padding: rotated ? 9 : 3,
                    maxRotation: rotated ? 20 : 0, minRotation: rotated ? 20 : 0,
                    labelOffset: rotated ? 29.5 : 0,
                    callback: (v, i) => rotated ? o.xLabels[i] : minus(v)
                },
                title: o.xTitle ? { display: true, text: o.xTitle, font: { size: 13.9 }, padding: { top: 0, bottom: o.xTitlePad } } : { display: false }
            },
            y: {
                type: 'linear', min: o.yMin, max: o.yMax,
                afterBuildTicks(axis) { axis.ticks = o.yTicks.map(v => ({ value: v })); },
                afterFit(axis) {
                    axis.width = plot.l - box.x;
                    axis.paddingLeft = axis.paddingRight = axis.paddingTop = axis.paddingBottom = 0;
                },
                grid: { color: o.gridColor || GRID, lineWidth: o.gridWidth || 1, tickColor: '#000', tickWidth: 1, tickLength: 5, z: o.gridZ || 0 },
                border: { display: false, dash: o.gridDash },
                ticks: { autoSkip: false, font: { size: 13.9 }, padding: 4, labelOffset: 1.5, callback: v => minus(v) },
                title: { display: true, text: o.yTitle, font: { size: 13.9 }, padding: { top: o.yTitlePad, bottom: 0 } }
            }
        }
    };
}

const leftBoxes = { map: { x: 0, y: 0, w: 800, h: 390 }, wind: { x: 0, y: 390, w: 800, h: 395 }, alt: { x: 0, y: 785, w: 800, h: 404 } };
const rightBoxes = { lat: { x: 800, y: 390, w: 787, h: 395 }, hist: { x: 800, y: 785, w: 787, h: 404 } };
const plotPlugins = [framePlugin, boxLegendPlugin];
const timeMin = -3.05, timeMax = 61.12;

// Flight track
const landSets = landPolygons.map(poly => ({
    data: poly.concat([poly[0]]).map(xy), showLine: true, pointRadius: 0, tension: 0,
    fill: 'shape', backgroundColor: '#e8e8e4', borderColor: '#bcc1c4', borderWidth: 0.8
}));
const waterSets = waterPolygons.map(poly => ({
    data: poly.concat([poly[0]]).map(xy), showLine: true, pointRadius: 0, tension: 0,
    fill: 'shape', backgroundColor: '#d2e4f1', borderColor: '#bcc1c4', borderWidth: 0.6
}));
const borderSets = borderLines.map(line => ({
    data: line.map(xy), showLine: true, pointRadius: 0, tension: 0, fill: false,
    borderColor: 'rgba(195,197,197,0.5)', borderWidth: 0.6
}));
new Chart(document.getElementById('c-map'), {
    type: 'scatter',
    data: { datasets: [
        { data: [xy(lastFixPoint)], pointStyle: starMarker, pointRadius: 12 },
        { data: [xy(launchPoint)], pointRadius: 8.5, pointBackgroundColor: GREEN, pointBorderColor: '#000', pointBorderWidth: 1.2 },
        { data: trackPoints.map(xy), pointRadius: 2.8, pointBackgroundColor: RED, pointBorderWidth: 0 },
        ...waterSets, ...borderSets, ...landSets
    ] },
    options: axesOptions(leftBoxes.map, { l: 74, t: 31, r: 769, b: 339 }, {
        title: 'Flight Track', bg: '#d2e4f1',
        xMin: -180, xMax: 180, xTicks: lonTicks, yMin: -90, yMax: 90, yTicks: mapLatTicks,
        xTitle: 'Longitude (deg)', xTitlePad: 5, yTitle: 'Latitude (deg)', yTitlePad: 15,
        gridColor: 'rgba(120,120,120,0.2)', gridDash: [2, 2], gridZ: 1, gridWidth: 0.8,
        legend: { x: 81, y: 284, w: 80, h: 50, first: 9, step: 15.5, swatch: 15, text: 35, items: [
            { label: 'Track', kind: 'dot', color: RED, r: 2 },
            { label: 'Launch', kind: 'circle', color: GREEN, r: 8 },
            { label: 'Last fix', kind: 'star', color: BLUE }
        ] }
    }),
    plugins: plotPlugins
});

// Wind speed
new Chart(document.getElementById('c-wind'), {
    type: 'scatter',
    data: { datasets: [
        { data: windMeanHours.map((h, i) => ({ x: h, y: windMean[i] })), showLine: true, pointRadius: 0, borderColor: RED, borderWidth: 1.5, tension: 0 },
        { data: windPoints.map(xy), pointRadius: 2.2, pointBackgroundColor: NAVY, pointBorderWidth: 0 },
        { data: bandHours.map((h, i) => ({ x: h, y: bandUpper[i] })), showLine: true, pointRadius: 0, borderWidth: 0, tension: 0, fill: '+1', backgroundColor: 'rgba(127,140,141,0.34)' },
        { data: bandHours.map((h, i) => ({ x: h, y: bandLower[i] })), showLine: true, pointRadius: 0, borderWidth: 0, tension: 0 }
    ] },
    options: axesOptions(leftBoxes.wind, { l: 74, t: 420, r: 769, b: 728 }, {
        title: 'Wind Speed vs. Time',
        xMin: timeMin, xMax: timeMax, xTicks: timeTicks, xLabels: timeLabels,
        yMin: 0, yMax: 33.15, yTicks: windTicks, yTitle: 'Wind speed (m s\u207B\u00B9)', yTitlePad: 21,
        legend: { x: 602, y: 35, w: 161, h: 50, first: 10, step: 15.7, swatch: 15.5, text: 35, items: [
            { label: '\u00B11\u03C3 propagated error', kind: 'patch', color: 'rgba(127,140,141,0.34)' },
            { label: 'Wind speed', kind: 'dot', color: NAVY, r: 1.9 },
            { label: 'Daily mean', kind: 'line', color: RED }
        ] }
    }),
    plugins: plotPlugins
});

// Latitude
new Chart(document.getElementById('c-lat'), {
    type: 'scatter',
    data: { datasets: [{ data: latPoints.map(xy), pointRadius: 2.4, pointBackgroundColor: '#000', pointBorderWidth: 0 }] },
    options: axesOptions(rightBoxes.lat, { l: 864, t: 420, r: 1559, b: 728 }, {
        title: 'Latitude vs. Time',
        xMin: timeMin, xMax: timeMax, xTicks: timeTicks, xLabels: timeLabels,
        yMin: -90, yMax: 90, yTicks: latTicks, yTitle: 'Latitude (deg)', yTitlePad: 3
    }),
    plugins: plotPlugins
});

// Altitude
new Chart(document.getElementById('c-alt'), {
    type: 'scatter',
    data: { datasets: [
        { data: altMeanHours.map((h, i) => ({ x: h, y: altMean[i] })), showLine: true, pointRadius: 0, borderColor: RED, borderWidth: 2, tension: 0 },
        { data: altPoints.map(xy), pointRadius: 2.2, pointBackgroundColor: GREY, pointBorderWidth: 0 }
    ] },
    options: axesOptions(leftBoxes.alt, { l: 74, t: 808, r: 769, b: 1116 }, {
        title: 'Balloon Altitude vs. Time',
        xMin: timeMin, xMax: timeMax, xTicks: timeTicks, xLabels: timeLabels, xTitle: 'UTC date', xTitlePad: 7,
        yMin: 7765.6, yMax: 8034, yTicks: altTicks, yTitle: 'Altitude (m AMSL)', yTitlePad: 9
    }),
    plugins: plotPlugins
});

// U and V histogram
new Chart(document.getElementById('c-hist'), {
    type: 'bar',
    data: { datasets: [
        { data: binCenters.map((c, i) => ({ x: c, y: countsU[i] })), order: 2, backgroundColor: 'rgba(31,119,180,0.65)', borderColor: 'rgba(0,0,0,0.7)', borderWidth: 1, borderSkipped: false, grouped: false, barPercentage: 1, categoryPercentage: 1 },
        { data: binCenters.map((c, i) => ({ x: c, y: countsV[i] })), order: 1, backgroundColor: 'rgba(255,127,14,0.65)', borderColor: 'rgba(0,0,0,0.7)', borderWidth: 1, borderSkipped: false, grouped: false, barPercentage: 1, categoryPercentage: 1 }
    ] },
    options: axesOptions(rightBoxes.hist, { l: 864, t: 808, r: 1559, b: 1116 }, {
        title: 'U and V Wind Components',
        xMin: -100, xMax: 100, xTicks: histXTicks, xTitle: 'Wind speed (m s\u207B\u00B9)', xTitlePad: 24,
        yMin: 0, yMax: 461, yTicks: histYTicks, yTitle: 'Frequency', yTitlePad: 8,
        legend: { x: 1435 - 800, y: 815 - 785, w: 117, h: 33, first: 9, step: 15.5, swatch: 15.5, text: 35, items: [
            { label: 'U (zonal)', kind: 'patch', color: 'rgba(31,119,180,0.65)', edge: 'rgba(0,0,0,0.7)' },
            { label: 'V (meridional)', kind: 'patch', color: 'rgba(255,127,14,0.65)', edge: 'rgba(0,0,0,0.7)' }
        ] }
    }),
    plugins: plotPlugins
});
</script>
</body>
</html>
